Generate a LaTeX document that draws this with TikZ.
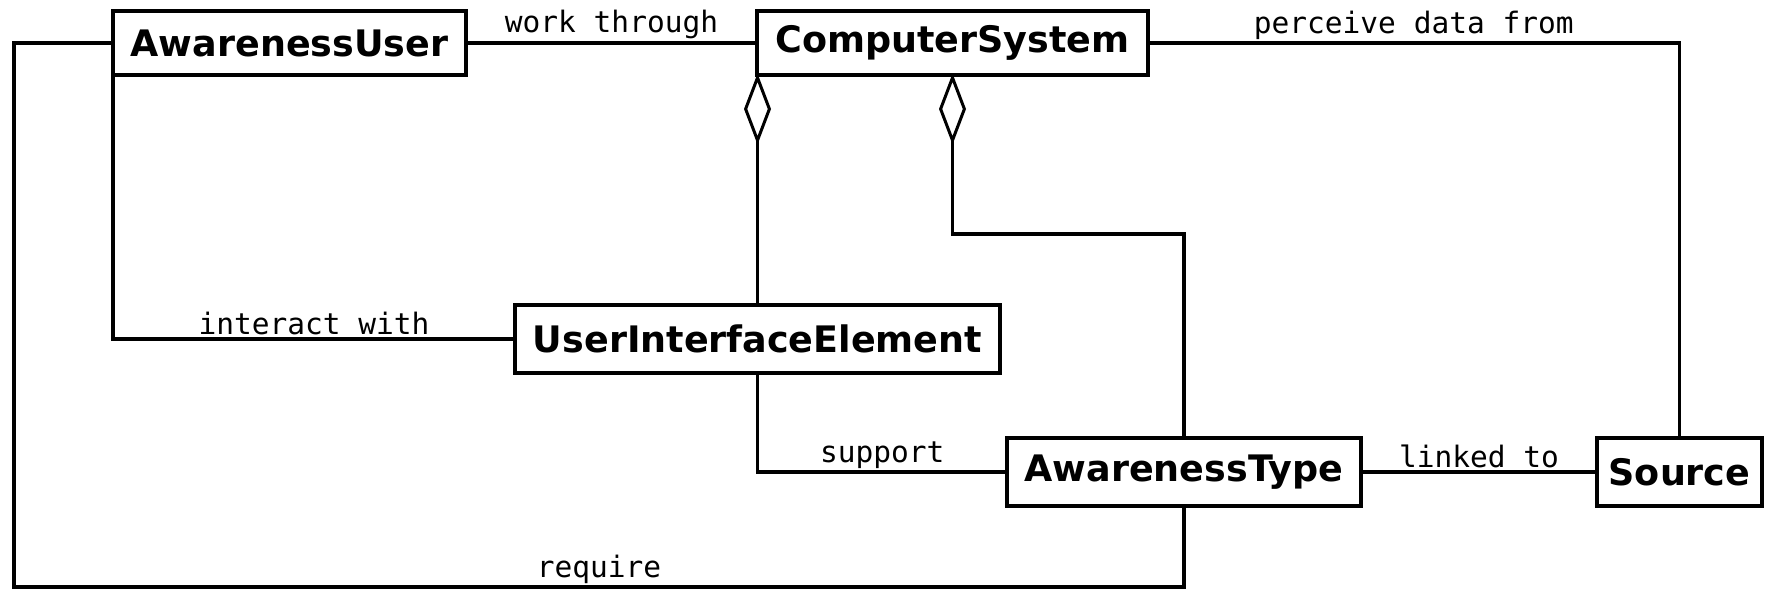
\documentclass[tikz,border=0pt]{standalone}
\usepackage{fontspec}
\setmainfont{DejaVu Sans}
\newfontfamily\lblfont{DejaVu Sans Mono}
\usetikzlibrary{arrows.meta}
\begin{document}
\begin{tikzpicture}[x=1pt,y=-1pt,
  cls/.style={draw, line width=4pt, fill=white, inner sep=0pt, outer sep=0pt,
    font=\fontsize{36.5}{40}\selectfont\bfseries},
  conn/.style={line width=3.5pt},
  lbl/.style={font=\lblfont\fontsize{29.5}{32}\selectfont, inner sep=2pt, above},
  agg/.style={{Diamond[open, length=71pt, width=27pt, line width=3pt]}-}]
\useasboundingbox (0,0) rectangle (1771,591);
\coordinate (lbot) at (14,587);
\coordinate (bend) at (952.5,234);
\node[cls, minimum width=353pt, minimum height=64pt] (au) at (289.5,43) {AwarenessUser};
\node[cls, minimum width=391pt, minimum height=64pt] (cs) at (952.5,43) {ComputerSystem};
\node[cls, minimum width=485pt, minimum height=68pt] (uie) at (757.5,339) {UserInterfaceElement};
\node[cls, minimum width=354pt, minimum height=68pt] (at) at (1184,472) {AwarenessType};
\node[cls, minimum width=165pt, minimum height=68pt] (src) at (1679.5,472) {Source};
\draw[conn] (au) -- node[lbl]{work through} (cs);
\draw[conn] (cs.east) -| node[lbl, pos=0.25]{perceive data from} (src.north);
\draw[conn] (au.west) -| (lbot) -- node[lbl]{require} (lbot -| at.south) -- (at.south);
\draw[conn] (au.south west) |- node[lbl, pos=0.75]{interact with} (uie.west);
\draw[conn, agg] ([yshift=1.5pt]uie.north |- cs.south) -- (uie.north);
\draw[conn, agg] ([yshift=1.5pt]cs.south) -- (bend) -| (at.north);
\draw[conn] (uie.south) |- node[lbl, pos=0.75]{support} (at.west);
\draw[conn] (at) -- node[lbl]{linked to} (src);
\end{tikzpicture}
\end{document}
